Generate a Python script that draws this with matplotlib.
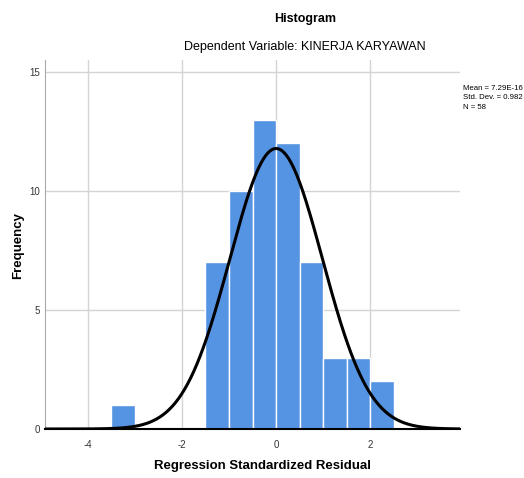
import numpy as np
import matplotlib.pyplot as plt

bin_edges = [-3.5, -3.0, -2.5, -2.0, -1.5, -1.0, -0.5, 0.0, 0.5, 1.0, 1.5, 2.0, 2.5]
counts = [1, 0, 0, 0, 7, 10, 13, 12, 7, 3, 3, 2]
mean, sd, n = 7.29e-16, 0.982, 58
x_ticks = [-4, -2, 0, 2]
y_ticks = [0, 5, 10, 15]

plt.rcParams['font.family'] = ['Liberation Sans', 'DejaVu Sans']
plt.rcParams['axes.unicode_minus'] = False

fig = plt.figure(figsize=(5.24, 4.78), dpi=100)
ax = fig.add_axes([0.086, 0.1025, 0.792, 0.772])

lefts = np.array(bin_edges[:-1])
widths = np.diff(bin_edges)
ax.bar(lefts, counts, width=widths, align='edge', color='#5594e2',
       edgecolor='white', linewidth=1.0, zorder=2)

# normal curve scaled to counts (bin width 0.5)
xs = np.linspace(-4.9, 3.9, 400)
bw = 0.5
ys = n * bw / (sd * np.sqrt(2 * np.pi)) * np.exp(-0.5 * ((xs - mean) / sd) ** 2)
ax.plot(xs, ys, color='black', linewidth=2.2, zorder=3)

ax.set_xlim(-4.9, 3.9)
ax.set_ylim(0, 15.5)
ax.set_xticks(x_ticks)
ax.set_yticks(y_ticks)
ax.tick_params(length=0, labelsize=7, colors='#333333')
ax.tick_params(axis='x', pad=8)
ax.grid(True, color='#d4d4d4', linewidth=1.0, zorder=0)
ax.set_axisbelow(True)
for s in ['top', 'right']:
    ax.spines[s].set_visible(False)
ax.spines['left'].set_color('#aaaaaa')
ax.spines['bottom'].set_color('black')
ax.spines['bottom'].set_linewidth(1.5)

fig.text(0.5, 0.025, 'Regression Standardized Residual', ha='center', va='center',
         fontsize=9.5, fontweight='bold')
fig.text(0.035, 0.487, 'Frequency', ha='center', va='center', rotation=90,
         fontsize=9.5, fontweight='bold')

fig.text(0.582, 0.96, 'Histogram', ha='center', va='center', fontsize=9, fontweight='bold')
fig.text(0.582, 0.902, 'Dependent Variable: KINERJA KARYAWAN', ha='center', va='center', fontsize=9)

fig.text(0.883, 0.795, 'Mean = 7.29E-16\nStd. Dev. = 0.982\nN = 58', ha='left', va='center',
         fontsize=5.6, linespacing=1.45)

fig.savefig('out.png', dpi=100)
